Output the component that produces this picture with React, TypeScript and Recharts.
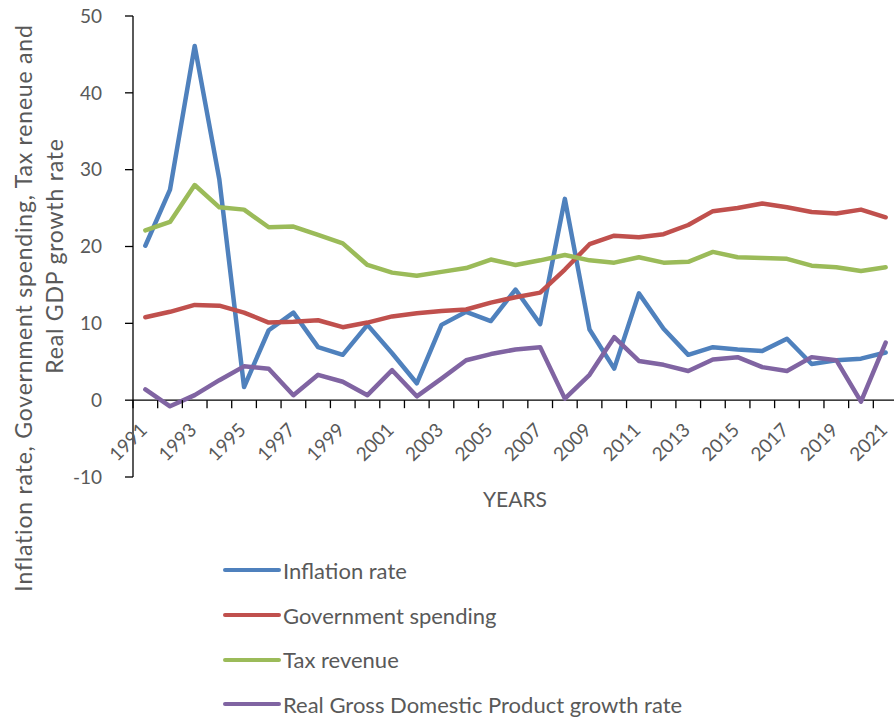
import { Legend, Line, LineChart, ReferenceLine, XAxis, YAxis } from "recharts";

const years = [
  "1991", "1992", "1993", "1994", "1995", "1996", "1997", "1998", "1999", "2000",
  "2001", "2002", "2003", "2004", "2005", "2006", "2007", "2008", "2009", "2010",
  "2011", "2012", "2013", "2014", "2015", "2016", "2017", "2018", "2019", "2020", "2021",
];

const inflation = [
  20.1, 27.4, 46.1, 28.7, 1.7, 9.1, 11.4, 6.9, 5.9, 9.8,
  6.1, 2.2, 9.8, 11.5, 10.3, 14.4, 9.9, 26.2, 9.2, 4.1,
  13.9, 9.3, 5.9, 6.9, 6.6, 6.4, 8.0, 4.7, 5.2, 5.4, 6.2,
];

const govSpending = [
  10.8, 11.5, 12.4, 12.3, 11.4, 10.1, 10.2, 10.4, 9.5, 10.1,
  10.9, 11.3, 11.6, 11.8, 12.7, 13.4, 14.0, 17.0, 20.3, 21.4,
  21.2, 21.6, 22.8, 24.6, 25.0, 25.6, 25.1, 24.5, 24.3, 24.8, 23.8,
];

const taxRevenue = [
  22.1, 23.2, 28.0, 25.1, 24.8, 22.5, 22.6, 21.5, 20.4, 17.6,
  16.6, 16.2, 16.7, 17.2, 18.3, 17.6, 18.2, 18.9, 18.2, 17.9,
  18.6, 17.9, 18.0, 19.3, 18.6, 18.5, 18.4, 17.5, 17.3, 16.8, 17.3,
];

const gdpGrowth = [
  1.4, -0.8, 0.65, 2.6, 4.4, 4.1, 0.65, 3.3, 2.4, 0.65,
  3.9, 0.5, 2.8, 5.2, 6.0, 6.6, 6.9, 0.2, 3.3, 8.2,
  5.1, 4.6, 3.8, 5.3, 5.6, 4.3, 3.8, 5.6, 5.2, -0.2, 7.5,
];

const yTicks = [-10, 0, 10, 20, 30, 40, 50];

const series = [
  { key: "inflation", name: "Inflation rate", color: "#4F81BD" },
  { key: "gov", name: "Government spending", color: "#C0504D" },
  { key: "tax", name: "Tax revenue", color: "#9BBB59" },
  { key: "gdp", name: "Real Gross Domestic Product growth rate", color: "#8064A2" },
];

const data = years.map((year, i) => ({
  year,
  inflation: inflation[i],
  gov: govSpending[i],
  tax: taxRevenue[i],
  gdp: gdpGrowth[i],
}));

// layout
const CHART_W = 898;
const CHART_H = 719;
const PLOT_LEFT = 133;
const PLOT_TOP = 16;
const PLOT_BOTTOM = 477;
const STEP = (CHART_W - PLOT_LEFT) / years.length;
const Y0 = PLOT_TOP + ((PLOT_BOTTOM - PLOT_TOP) * 50) / 60;
const TEXT = "#595959";

function YearTick(props: any) {
  const { x, index, payload } = props;
  const bx = x - STEP / 2;
  const ax = x + 3;
  const ay = Y0 + 31;
  return (
    <g>
      <line x1={bx} y1={Y0} x2={bx} y2={Y0 + 8} stroke="#000" strokeWidth={1.3} />
      {index % 2 === 0 && (
        <text
          x={ax}
          y={ay}
          textAnchor="end"
          fill={TEXT}
          fontSize={19}
          transform={`rotate(-45, ${ax}, ${ay})`}
        >
          {payload.value}
        </text>
      )}
    </g>
  );
}

function YTitle() {
  return (
    <g fill={TEXT} fontSize={23} letterSpacing={0.8}>
      <text x={32} y={308} textAnchor="middle" transform="rotate(-90, 32, 308)">
        Inflation rate, Government spending, Tax reneue and
      </text>
      <text x={63} y={256} textAnchor="middle" transform="rotate(-90, 63, 256)">
        Real GDP growth rate
      </text>
    </g>
  );
}

function XTitle() {
  return (
    <text x={515} y={507} textAnchor="middle" fill={TEXT} fontSize={21}>
      YEARS
    </text>
  );
}

function LegendBox() {
  return (
    <div>
      {series.map((s) => (
        <div key={s.key} style={{ display: "flex", alignItems: "center", height: 44.7 }}>
          <svg width={60} height={10}>
            <line x1={2} y1={5} x2={56} y2={5} stroke={s.color} strokeWidth={4} strokeLinecap="round" />
          </svg>
          <span style={{ color: TEXT, fontSize: 22 }}>{s.name}</span>
        </div>
      ))}
    </div>
  );
}

export default function App() {
  return (
    <div
      style={{
        position: "absolute",
        left: 0,
        top: 0,
        width: 894,
        height: 719,
        overflow: "hidden",
        background: "#fff",
        fontFamily: "Lato, sans-serif",
      }}
    >
      <LineChart
        width={CHART_W}
        height={CHART_H}
        data={data}
        margin={{ top: PLOT_TOP, right: 0, bottom: 0, left: 0 }}
      >
        <XAxis
          dataKey="year"
          interval={0}
          axisLine={false}
          tickLine={false}
          height={CHART_H - PLOT_BOTTOM}
          padding={{ left: STEP / 2, right: STEP / 2 }}
          tick={<YearTick />}
          label={{ content: () => <XTitle /> }}
        />
        <YAxis
          width={PLOT_LEFT}
          domain={[-10, 50]}
          ticks={yTicks}
          interval={0}
          tickSize={8}
          tickMargin={23}
          axisLine={{ stroke: "#000", strokeWidth: 1.3 }}
          tickLine={{ stroke: "#000", strokeWidth: 1.3 }}
          tick={{ fill: TEXT, fontSize: 19 }}
          label={{ content: () => <YTitle /> }}
        />
        <ReferenceLine y={0} stroke="#000" strokeWidth={1.3} />
        {series.map((s) => (
          <Line
            key={s.key}
            type="linear"
            dataKey={s.key}
            name={s.name}
            stroke={s.color}
            strokeWidth={4.5}
            strokeLinejoin="round"
            strokeLinecap="round"
            dot={false}
            activeDot={false}
            isAnimationActive={false}
          />
        ))}
        <Legend
          layout="vertical"
          align="center"
          verticalAlign="middle"
          wrapperStyle={{ left: 223, top: 548, width: 600 }}
          content={<LegendBox />}
        />
      </LineChart>
    </div>
  );
}
